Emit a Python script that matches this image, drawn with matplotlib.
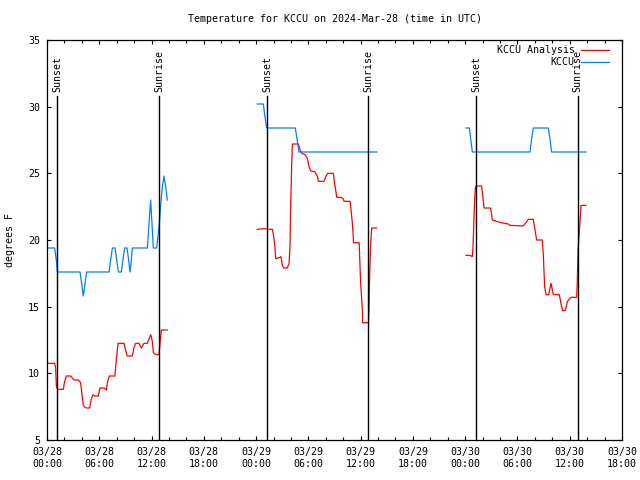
import matplotlib
matplotlib.use("Agg")
import matplotlib.pyplot as plt
from matplotlib.ticker import MultipleLocator
import numpy as np

nan = np.nan

# --- DATA (hours since 2024-03-28 00:00 UTC, degrees F) ---
# KCCU observations
obs_t = [0.12, 0.88, 1.07, 1.19, 3.79, 3.98, 4.17, 4.36, 4.55, 7.12, 7.31, 7.50,
         7.81, 8.00, 8.19, 8.53, 8.72, 8.91, 9.18, 9.37, 9.53, 9.68, 9.79, 11.52,
         11.71, 11.90, 12.05, 12.20, 12.59, 12.74, 12.89, 13.05, 13.24, 13.43,
         13.62, 13.81, nan,
         24.14, 24.83, 24.98, 25.21, 28.50, 28.69, 28.92, 37.84, nan,
         48.09, 48.48, 48.63, 48.82, 55.44, 55.63, 55.82, 57.54, 57.73, 57.92, 61.87]
obs_f = [19.4, 19.4, 18.5, 17.6, 17.6, 16.7, 15.8, 16.7, 17.6, 17.6, 18.5, 19.4,
         19.4, 18.5, 17.6, 17.6, 18.5, 19.4, 19.4, 18.5, 17.6, 18.5, 19.4, 19.4,
         21.2, 23.0, 21.2, 19.4, 19.4, 20.3, 21.2, 22.6, 24.0, 24.8,
         24.0, 23.0, nan,
         30.2, 30.2, 29.4, 28.4, 28.4, 27.6, 26.6, 26.6, nan,
         28.4, 28.4, 27.6, 26.6, 26.6, 27.6, 28.4, 28.4, 27.6, 26.6, 26.6]

# KCCU analysis
ana_t = [0.12, 0.88, 0.99, 1.07, 1.19, 1.87, 2.03, 2.22, 2.72, 3.10, 3.60, 3.86,
         3.98, 4.17, 4.36, 4.52, 4.90, 5.05, 5.28, 5.47, 5.89, 6.08, 6.54, 6.81,
         6.96, 7.15, 7.80, 7.96, 8.15, 8.84, 9.07, 9.22, 9.79, 9.98, 10.17, 10.56,
         10.83, 11.13, 11.52, 11.90, 12.09, 12.20, 12.51, 12.85, 12.93, 13.12, 13.81, nan,
         24.14, 25.00, 25.52, 25.86, 25.98, 26.13, 26.25, 26.75, 26.86, 27.01, 27.17,
         27.55, 27.78, 27.90, 27.97, 28.09, 28.17, 28.86, 29.05, 29.24, 29.62, 29.89,
         30.08, 30.24, 30.77, 31.04, 31.15, 31.80, 32.03, 32.22, 32.87, 33.02, 33.17,
         33.25, 33.75, 34.00, 34.10, 34.80, 34.88, 35.03, 35.14, 35.18, 35.83, 35.90,
         36.00, 36.20, 36.22, 36.90, 36.97, 37.04, 37.15, 37.27, 37.84, nan,
         48.09, 48.55, 48.82, 48.90, 49.00, 49.09, 49.20, 49.89, 50.00, 50.16, 50.92,
         51.12, 52.07, 52.95, 53.14, 54.67, 54.98, 55.25, 55.82, 56.01, 56.20, 56.85,
         56.97, 57.12, 57.28, 57.58, 57.85, 58.12, 58.81, 59.00, 59.19, 59.50, 59.73,
         60.15, 60.80, 60.87, 60.95, 61.18, 61.30, 61.87]
ana_f = [10.75, 10.75, 10.4, 9.1, 8.8, 8.8, 9.4, 9.8, 9.8, 9.5, 9.5, 9.3,
         8.6, 7.6, 7.45, 7.4, 7.4, 8.0, 8.4, 8.3, 8.3, 8.9, 8.9, 8.75,
         9.4, 9.8, 9.8, 11.05, 12.25, 12.25, 11.6, 11.3, 11.3, 11.9, 12.25, 12.25,
         11.9, 12.25, 12.25, 12.9, 12.4, 11.55, 11.4, 11.4, 11.95, 13.25, 13.25, nan,
         20.8, 20.85, 20.8, 20.8, 20.4, 19.7, 18.6, 18.7, 18.75, 18.1, 17.9,
         17.9, 18.2, 19.7, 22.6, 25.75, 27.2, 27.2, 26.75, 26.5, 26.4, 26.1,
         25.5, 25.2, 25.1, 24.75, 24.4, 24.4, 24.8, 25.0, 25.0, 24.2, 23.6,
         23.2, 23.2, 23.1, 22.9, 22.9, 22.4, 21.4, 20.4, 19.8, 19.8, 18.6,
         16.75, 14.75, 13.8, 13.8, 15.0, 17.4, 19.75, 20.9, 20.9, nan,
         18.85, 18.85, 18.75, 19.5, 21.4, 23.1, 24.05, 24.05, 23.4, 22.4, 22.4,
         21.5, 21.3, 21.2, 21.1, 21.05, 21.3, 21.55, 21.55, 20.75, 20.0, 20.0,
         18.9, 16.5, 15.9, 15.9, 16.75, 15.9, 15.9, 15.2, 14.7, 14.7, 15.4,
         15.7, 15.7, 16.9, 19.2, 21.5, 22.6, 22.6]

sunset_t = [1.2, 25.28, 49.28]
sunrise_t = [12.87, 36.88, 60.91]

tick_hours = list(range(0, 67, 6))
tick_labels = ["03/28\n00:00", "03/28\n06:00", "03/28\n12:00", "03/28\n18:00",
               "03/29\n00:00", "03/29\n06:00", "03/29\n12:00", "03/29\n18:00",
               "03/30\n00:00", "03/30\n06:00", "03/30\n12:00", "03/30\n18:00"]

RED = "#ff0000"
BLUE = "#0080ff"

plt.rcParams["font.family"] = ["DejaVu Sans Mono"]
plt.rcParams["font.size"] = 7.2

fig = plt.figure(figsize=(6.4, 4.8), dpi=100)
ax = fig.add_axes([47 / 640, 40 / 480, 575 / 640, 400 / 480])

ax.plot(ana_t, ana_f, color=RED, lw=0.9)
ax.plot(obs_t, obs_f, color=BLUE, lw=0.9)

# sunrise / sunset markers
for t in sunset_t:
    ax.axvline(t, ymin=0, ymax=0.86, color="black", lw=1.0)
    ax.text(t, 0.87, "Sunset", rotation=90, ha="center", va="bottom",
            transform=ax.get_xaxis_transform())
for t in sunrise_t:
    ax.axvline(t, ymin=0, ymax=0.86, color="black", lw=1.0)
    ax.text(t, 0.87, "Sunrise", rotation=90, ha="center", va="bottom",
            transform=ax.get_xaxis_transform())

ax.set_xlim(0, 66)
ax.set_ylim(5, 35)
ax.set_xticks(tick_hours)
ax.set_xticklabels(tick_labels)
ax.xaxis.set_minor_locator(MultipleLocator(2))
ax.set_yticks(range(5, 36, 5))

ax.tick_params(which="both", direction="in", top=True, right=True, width=0.8)
ax.tick_params(which="major", length=3.2)
ax.tick_params(which="minor", length=2.0)
ax.tick_params(axis="x", pad=5)
ax.tick_params(axis="y", pad=5)
for s in ax.spines.values():
    s.set_linewidth(0.9)

# title and y label
ax.text(0.5, 1.0525, "Temperature for KCCU on 2024-Mar-28 (time in UTC)",
        ha="center", va="center", transform=ax.transAxes)
fig.text(10 / 640, 0.5, "degrees F", rotation=90, ha="center", va="center")

# legend drawn by hand, gnuplot style
ax.text(0.918, 0.976, "KCCU Analysis", ha="right", va="center", transform=ax.transAxes)
ax.plot([0.9287, 0.9774], [0.976, 0.976], color=RED, lw=0.9, transform=ax.transAxes)
ax.text(0.918, 0.944, "KCCU", ha="right", va="center", transform=ax.transAxes)
ax.plot([0.9287, 0.9774], [0.944, 0.944], color=BLUE, lw=0.9, transform=ax.transAxes)

fig.savefig("out.png", dpi=100)
